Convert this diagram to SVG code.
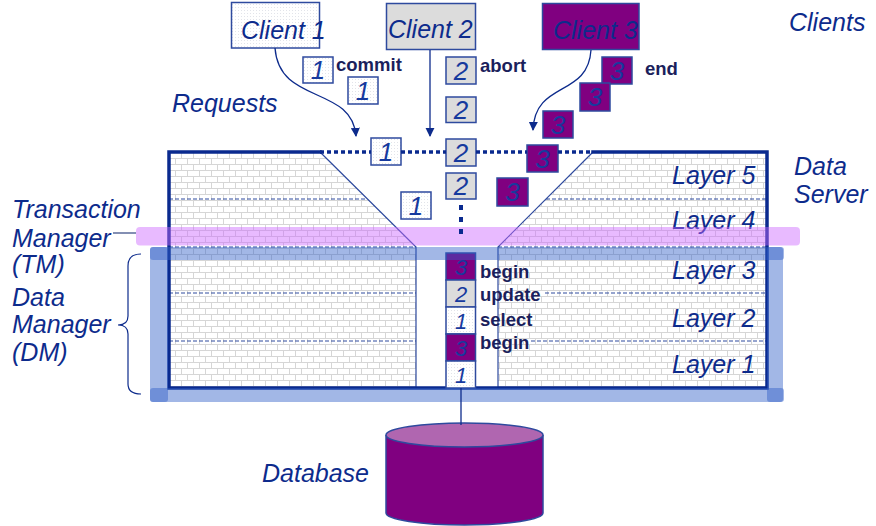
<svg xmlns="http://www.w3.org/2000/svg" width="876" height="526" viewBox="0 0 876 526">
<defs>
  <pattern id="brick" width="12" height="12" patternUnits="userSpaceOnUse" x="169" y="152">
    <rect width="12" height="12" fill="#ffffff"/>
    <path d="M0,0.5H12M0,6.5H12M0.5,0V6M6.5,6V12" stroke="#d6d6d6" stroke-width="1" fill="none"/>
  </pattern>
  <pattern id="dots" width="3" height="3" patternUnits="userSpaceOnUse">
    <rect width="3" height="3" fill="#ffffff"/>
    <rect x="1" y="1" width="1" height="1" fill="#e2e4ea"/>
  </pattern>
  <marker id="arr" viewBox="0 0 10 10" refX="9" refY="5" markerWidth="7" markerHeight="7" orient="auto">
    <path d="M0,0 L10,5 L0,10 z" fill="#0d2b8c"/>
  </marker>
  <style>
    .lbl{font-family:"Liberation Sans",Arial,sans-serif;font-style:italic;font-size:25px;fill:#0d2b8c}
    .bold{font-family:"Liberation Sans",Arial,sans-serif;font-weight:bold;font-size:18.5px;fill:#1b1f5c}
    .dig{font-family:"Liberation Sans",Arial,sans-serif;font-style:italic;font-size:26px;fill:#173a9e;text-anchor:middle}
    .cdig{font-family:"Liberation Sans",Arial,sans-serif;font-style:italic;font-size:22px;fill:#173a9e;text-anchor:middle}
    .b1{fill:url(#dots);stroke:#2e4a9e;stroke-width:1.5}
    .b2{fill:#dcdcdc;stroke:#2e4a9e;stroke-width:1.5}
    .b3{fill:#800080;stroke:#2e4a9e;stroke-width:1.5}
    .thick{stroke:#0a2a8f;stroke-width:3.5;fill:none;stroke-linecap:square}
    .thin{stroke:#2e4a9e;stroke-width:1.2;fill:none}
    .dash{stroke:#2e4a9e;stroke-width:1;stroke-dasharray:4 2;fill:none}
    .conn{stroke:#0d2b8c;stroke-width:1.3;fill:none}
    .blue{fill:#3060c8;opacity:0.45}
  </style>
</defs>
<rect width="876" height="526" fill="#ffffff"/>

<!-- Data server -->
<g id="data-server">
  <polygon points="169,152 320,152 416,247 416,388 169,388" fill="url(#brick)"/>
  <polygon points="593,152 767,152 767,388 498,388 498,247" fill="url(#brick)"/>
  <path class="dash" d="M169,199H366M169,247H416M169,293H416M169,341H416"/>
  <path class="dash" d="M546,199H767M498,247H767M545,293H767M531,341H767"/>
  <path class="thin" d="M320,152L416,247V388M593,152L498,247V388"/>
  <path class="thick" d="M320,152H169V388H767V152H593"/>
  <text class="lbl" x="672" y="184">Layer 5</text>
  <text class="lbl" x="672" y="229">Layer 4</text>
  <text class="lbl" x="672" y="279">Layer 3</text>
  <text class="lbl" x="672" y="327">Layer 2</text>
  <text class="lbl" x="672" y="373">Layer 1</text>
</g>

<!-- Column of operations -->
<g id="op-column">
  <rect class="b3" x="446" y="253" width="29.5" height="27"/>
  <text class="cdig" x="461" y="274.5">3</text>
  <rect class="b2" x="446" y="280" width="29.5" height="27"/>
  <text class="cdig" x="461" y="301.5">2</text>
  <rect class="b1" x="446" y="307" width="29.5" height="27"/>
  <text class="cdig" x="461" y="328.5">1</text>
  <rect class="b3" x="446" y="334" width="29.5" height="27"/>
  <text class="cdig" x="461" y="355.5">3</text>
  <rect class="b1" x="446" y="361" width="29.5" height="27"/>
  <text class="cdig" x="461" y="382.5">1</text>
  <text class="bold" x="480" y="278">begin</text>
  <text class="bold" x="480" y="301">update</text>
  <text class="bold" x="480" y="326">select</text>
  <text class="bold" x="480" y="349">begin</text>
</g>

<!-- TM band -->
<g id="tm-band">
  <rect x="136" y="227" width="664" height="18.5" rx="4" fill="#cc66ff" opacity="0.45"/>
</g>

<!-- DM frame -->
<g id="dm-frame">
  <rect class="blue" x="150" y="247" width="634" height="13" rx="3"/>
  <rect class="blue" x="150" y="388" width="634" height="14" rx="3"/>
  <rect class="blue" x="150" y="247" width="18" height="155" rx="3"/>
  <rect class="blue" x="767" y="247" width="16" height="155" rx="3"/>
</g>

<!-- Clients -->
<g id="client1">
  <rect class="b1" x="231.5" y="2.5" width="88" height="45.5"/>
  <text class="lbl" x="241" y="39">Client 1</text>
</g>
<g id="client2">
  <rect class="b2" x="386.5" y="3.5" width="89" height="46"/>
  <text class="lbl" x="388" y="38">Client 2</text>
</g>
<g id="client3">
  <rect class="b3" x="542.5" y="3.5" width="96.5" height="46"/>
  <text class="lbl" x="553" y="39">Client 3</text>
</g>

<!-- Request boxes -->
<g id="requests-1">
  <rect class="b1" x="303" y="57" width="30" height="26"/><text class="dig" x="318" y="79">1</text>
  <rect class="b1" x="348" y="77" width="30" height="27"/><text class="dig" x="363" y="100">1</text>
  <rect class="b1" x="371" y="138" width="30" height="27"/><text class="dig" x="386" y="161">1</text>
  <rect class="b1" x="401" y="192" width="30" height="27"/><text class="dig" x="416" y="215">1</text>
  <text class="bold" x="336" y="71">commit</text>
</g>
<g id="requests-2">
  <rect class="b2" x="446" y="57" width="30" height="27"/><text class="dig" x="461" y="80">2</text>
  <rect class="b2" x="446" y="97" width="30" height="25.5"/><text class="dig" x="461" y="119">2</text>
  <rect class="b2" x="446" y="139" width="30" height="27"/><text class="dig" x="461" y="162">2</text>
  <rect class="b2" x="446" y="173" width="30" height="26"/><text class="dig" x="461" y="195">2</text>
  <text class="bold" x="480" y="72">abort</text>
</g>
<g id="requests-3">
  <rect class="b3" x="602" y="57" width="30" height="27"/><text class="dig" x="617" y="80">3</text>
  <rect class="b3" x="580" y="83" width="30" height="28"/><text class="dig" x="595" y="106">3</text>
  <rect class="b3" x="543" y="111" width="30" height="27"/><text class="dig" x="558" y="134">3</text>
  <rect class="b3" x="527" y="145" width="31" height="27"/><text class="dig" x="542.5" y="168">3</text>
  <rect class="b3" x="497" y="178" width="31" height="28"/><text class="dig" x="512.5" y="201">3</text>
  <text class="bold" x="645" y="75">end</text>
</g>

<!-- Database -->
<g id="database">
  <path d="M386,435V513A78.5,12 0 0 0 543,513V435" fill="#800080" stroke="#2e4a9e" stroke-width="1.5"/>
  <ellipse cx="464.5" cy="435" rx="78.5" ry="12" fill="#b066b0" stroke="#2e4a9e" stroke-width="1.5"/>
  <text class="lbl" x="262" y="482">Database</text>
</g>

<!-- Labels -->
<g id="labels">
  <text class="lbl" x="789" y="31">Clients</text>
  <text class="lbl" x="172" y="112">Requests</text>
  <text class="lbl" x="794" y="175">Data</text>
  <text class="lbl" x="794" y="203">Server</text>
  <text class="lbl" x="12" y="218">Transaction</text>
  <text class="lbl" x="12" y="247">Manager</text>
  <text class="lbl" x="12" y="273">(TM)</text>
  <text class="lbl" x="12" y="306">Data</text>
  <text class="lbl" x="12" y="333">Manager</text>
  <text class="lbl" x="12" y="361">(DM)</text>
</g>

<!-- Connectors -->
<g id="connectors">
  <path class="conn" d="M275,48 C279,105 352,85 356,136" marker-end="url(#arr)"/>
  <path class="conn" d="M430,50 V136" marker-end="url(#arr)"/>
  <path class="conn" d="M591,50 C588,98 535,80 533,130" marker-end="url(#arr)"/>
  <path d="M320,152H371M401,152H446M476,152H527M558,152H593" stroke="#0a2a8f" stroke-width="3.5" stroke-dasharray="4 3" fill="none"/>
  <path d="M461,205V237" stroke="#0a2a8f" stroke-width="4" stroke-dasharray="5 7" fill="none"/>
  <path class="conn" d="M461,388V425"/>
  <path d="M113,233H136" stroke="#5a6a9a" stroke-width="1.5" fill="none"/>
  <path d="M141,254 Q128,254 128,266 V316 Q128,325 118,325 Q128,325 128,334 V384 Q128,394 141,394" stroke="#0d2b8c" stroke-width="1.2" fill="none"/>
</g>
</svg>
